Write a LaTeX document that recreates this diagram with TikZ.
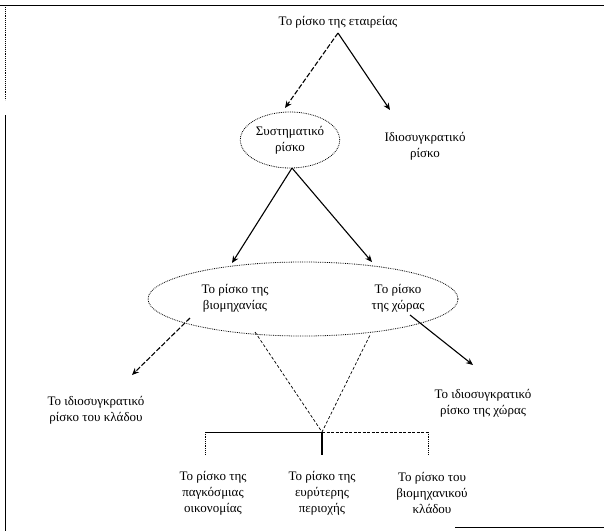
\documentclass[tikz,border=0pt]{standalone}
\usepackage{fontspec}
\setmainfont{Liberation Serif}
\usetikzlibrary{shapes.geometric,arrows.meta}
\begin{document}
\begin{tikzpicture}[x=1pt,y=-1pt,
  txt/.style={align=center,inner sep=1pt,font=\fontsize{13}{16}\selectfont},
  arr/.style={draw=black,line width=1.1pt,-{Stealth[length=7pt,width=6pt]}},
  arrd/.style={arr,dash pattern=on 5pt off 2pt},
  dell/.style={ellipse,draw=black,densely dotted,line width=0.8pt},
  vline/.style={draw=black,line width=0.7pt,dash pattern=on 3pt off 2pt},
  frame/.style={draw=black,line width=0.9pt}
]
\useasboundingbox (0,0) rectangle (604,531);
\fill[white] (0,0) rectangle (604,531);
% frame
\draw[frame] (0,5) -- (604,5);
\draw[frame,densely dotted] (5,5) -- (5,100);
\draw[frame] (5,115) -- (5,531);
\draw[frame] (455,527) -- (604,527);

% nodes
\node[txt] (title) at (338,22) {Το ρίσκο της εταιρείας};
\node[dell,txt,minimum width=94,minimum height=56] (sys) at (290,140) {Συστηματικό\\ρίσκο};
\node[txt] (idio) at (425,146) {Ιδιοσυγκρατικό\\ρίσκο};
\node[dell,minimum width=310,minimum height=74] (big) at (303,299) {};
\node[txt] (ind) at (235,298) {Το ρίσκο της\\βιομηχανίας};
\node[txt] (cty) at (398,298) {Το ρίσκο\\της χώρας};
\node[txt] (idind) at (96,410) {Το ιδιοσυγκρατικό\\ρίσκο του κλάδου};
\node[txt] (idcty) at (483,403) {Το ιδιοσυγκρατικό\\ρίσκο της χώρας};
\node[txt] (glob) at (213,493) {Το ρίσκο της\\παγκόσμιας\\οικονομίας};
\node[txt] (reg) at (322,493) {Το ρίσκο της\\ευρύτερης\\περιοχής};
\node[txt] (sect) at (432,493) {Το ρίσκο του\\βιομηχανικού\\κλάδου};

% coordinates
\coordinate (apex) at (338,33);
\coordinate (sysTip) at (285,108);
\coordinate (idioTip) at (390,110);
\coordinate (sysBot) at (292,168);
\coordinate (bigL) at (232,263);
\coordinate (bigR) at (372,262);
\coordinate (indOut) at (190,318);
\coordinate (indTip) at (132,375);
\coordinate (ctyOut) at (410,315);
\coordinate (ctyTip) at (473,365);
\coordinate (vL) at (255,332);
\coordinate (vR) at (370,335);
\coordinate (bL) at (205,432);
\coordinate (bM) at (322,432);
\coordinate (bR) at (428,432);
\coordinate (tL) at (205,455);
\coordinate (tM) at (322,455);
\coordinate (tR) at (428,455);

% connectors
\draw[arrd] (apex) -- (sysTip);
\draw[arr] (apex) -- (idioTip);
\draw[arr] (sysBot) -- (bigL);
\draw[arr] (sysBot) -- (bigR);
\draw[arrd] (indOut) -- (indTip);
\draw[arr] (ctyOut) -- (ctyTip);
\draw[vline] (vL) -- (bM) -- (vR);
\draw[line width=0.9pt] (bL) -- (bM);
\draw[line width=0.8pt,dash pattern=on 3pt off 1.5pt] (bM) -- (bR);
\draw[line width=0.8pt,densely dotted] (bL) -- (tL);
\draw[line width=0.8pt,densely dotted] (bR) -- (tR);
\draw[line width=1.4pt] (bM) -- (tM);
\end{tikzpicture}
\end{document}
